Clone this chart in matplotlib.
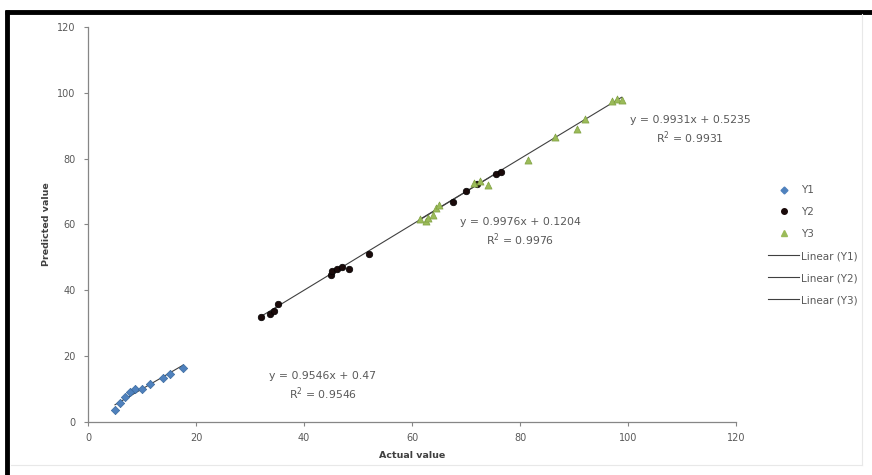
import matplotlib
matplotlib.use("Agg")
import matplotlib.pyplot as plt
from matplotlib.lines import Line2D

# Measured vs. predicted values for three responses
y1_actual = [5.0, 5.9, 6.9, 7.8, 8.7, 10.0, 11.5, 13.9, 15.2, 17.6]
y1_pred = [3.6, 5.8, 7.6, 9.1, 10.0, 10.0, 11.5, 13.4, 14.6, 16.4]

y2_actual = [32.0, 33.7, 34.5, 35.2, 45.0, 45.2, 46.2, 47.0, 48.3, 52.0, 67.5, 70.0, 72.0, 75.5, 76.5]
y2_pred = [31.8, 32.9, 33.8, 35.8, 44.8, 45.9, 46.6, 47.0, 46.6, 51.0, 66.8, 70.2, 72.2, 75.2, 76.0]

y3_actual = [61.5, 62.5, 63.0, 63.8, 64.5, 65.0, 71.5, 72.5, 74.0, 81.5, 86.5, 90.5, 92.0, 97.0, 98.0, 98.8]
y3_pred = [61.8, 61.0, 62.0, 63.0, 65.0, 66.0, 72.5, 73.2, 72.0, 79.5, 86.5, 89.0, 92.0, 97.5, 98.0, 97.8]

# Linear trendline coefficients (slope, intercept, R²)
fit_y1 = (0.9546, 0.47, 0.9546)
fit_y2 = (0.9976, 0.1204, 0.9976)
fit_y3 = (0.9931, 0.5235, 0.9931)

series_names = ["Y1", "Y2", "Y3"]
x_ticks = [0, 20, 40, 60, 80, 100, 120]
y_ticks = [0, 20, 40, 60, 80, 100, 120]

text_color = "#595959"
axis_color = "#868686"
trend_color = "#404040"

fig = plt.figure(figsize=(8.72, 4.75), dpi=100)
fig.patch.set_facecolor("white")
ax = fig.add_axes([88 / 872, 53 / 475, (736 - 88) / 872, (422 - 27) / 475])

ax.scatter(y1_actual, y1_pred, marker="D", s=18, color="#4F81BD",
           edgecolors="#3A6A9E", linewidths=0.5, zorder=3)
ax.scatter(y2_actual, y2_pred, marker="o", s=22, color="#1A0A0A",
           edgecolors="#000000", linewidths=0.5, zorder=3)
ax.scatter(y3_actual, y3_pred, marker="^", s=26, color="#9BBB59",
           edgecolors="#7FA040", linewidths=0.5, zorder=3)

# Trendlines spanning each series' data range
for xs, fit in ((y1_actual, fit_y1), (y2_actual, fit_y2), (y3_actual, fit_y3)):
    x0, x1 = min(xs), max(xs)
    ax.plot([x0, x1], [fit[0] * x0 + fit[1], fit[0] * x1 + fit[1]],
            color=trend_color, linewidth=0.8, zorder=2)

def eq_label(fit):
    return "y = %sx + %s\nR$^2$ = %s" % (fit[0], fit[1], fit[2])

eq_size = 7.8
ax.text(43.5, 10.8, eq_label(fit_y1), ha="center", va="center",
        fontsize=eq_size, color=text_color, linespacing=1.3)
ax.text(80.0, 57.5, eq_label(fit_y2), ha="center", va="center",
        fontsize=eq_size, color=text_color, linespacing=1.3)
ax.text(111.5, 88.5, eq_label(fit_y3), ha="center", va="center",
        fontsize=eq_size, color=text_color, linespacing=1.3, clip_on=False)

ax.set_xlim(0, 120)
ax.set_ylim(0, 120)
ax.set_xticks(x_ticks)
ax.set_yticks(y_ticks)
ax.tick_params(axis="y", pad=6)
ax.tick_params(axis="x", pad=5)
ax.tick_params(axis="both", labelsize=7, colors=axis_color, labelcolor=text_color,
               length=3, width=0.8, direction="out")
for side in ("top", "right"):
    ax.spines[side].set_visible(False)
for side in ("left", "bottom"):
    ax.spines[side].set_color(axis_color)
    ax.spines[side].set_linewidth(0.9)

ax.set_xlabel("Actual value", fontsize=6.8, fontweight="bold", color="#404040", labelpad=6)
ax.set_ylabel("Predicted value", fontsize=6.8, fontweight="bold", color="#404040", labelpad=4)

handles = [
    Line2D([], [], linestyle="none", marker="D", markersize=3.5, color="#4F81BD"),
    Line2D([], [], linestyle="none", marker="o", markersize=4, color="#1A0A0A"),
    Line2D([], [], linestyle="none", marker="^", markersize=4.5, color="#9BBB59"),
    Line2D([], [], color=trend_color, linewidth=0.8),
    Line2D([], [], color=trend_color, linewidth=0.8),
    Line2D([], [], color=trend_color, linewidth=0.8),
]
labels = series_names + ["Linear (%s)" % n for n in series_names]
leg = fig.legend(handles, labels, loc="upper left", bbox_to_anchor=(764 / 872, 1 - 181 / 475),
                 frameon=False, fontsize=7.5, labelcolor=text_color, handlelength=3.0,
                 handletextpad=0.15, labelspacing=1.15, borderaxespad=0)

# Chart frame: dark border on the top and left, faint border on the right and bottom
fig.add_artist(Line2D([7 / 872, 7 / 872], [0, 1 - 10 / 475], transform=fig.transFigure,
                      color="black", linewidth=3.5, solid_capstyle="butt"))
fig.add_artist(Line2D([5 / 872, 1], [1 - 12 / 475, 1 - 12 / 475], transform=fig.transFigure,
                      color="black", linewidth=3.5, solid_capstyle="butt"))
fig.add_artist(Line2D([862 / 872, 862 / 872], [10 / 475, 1 - 14 / 475], transform=fig.transFigure,
                      color="#E8E8E8", linewidth=0.8))
fig.add_artist(Line2D([11 / 872, 862 / 872], [10 / 475, 10 / 475], transform=fig.transFigure,
                      color="#E8E8E8", linewidth=0.8))

fig.savefig("out.png", dpi=100, facecolor="white")
